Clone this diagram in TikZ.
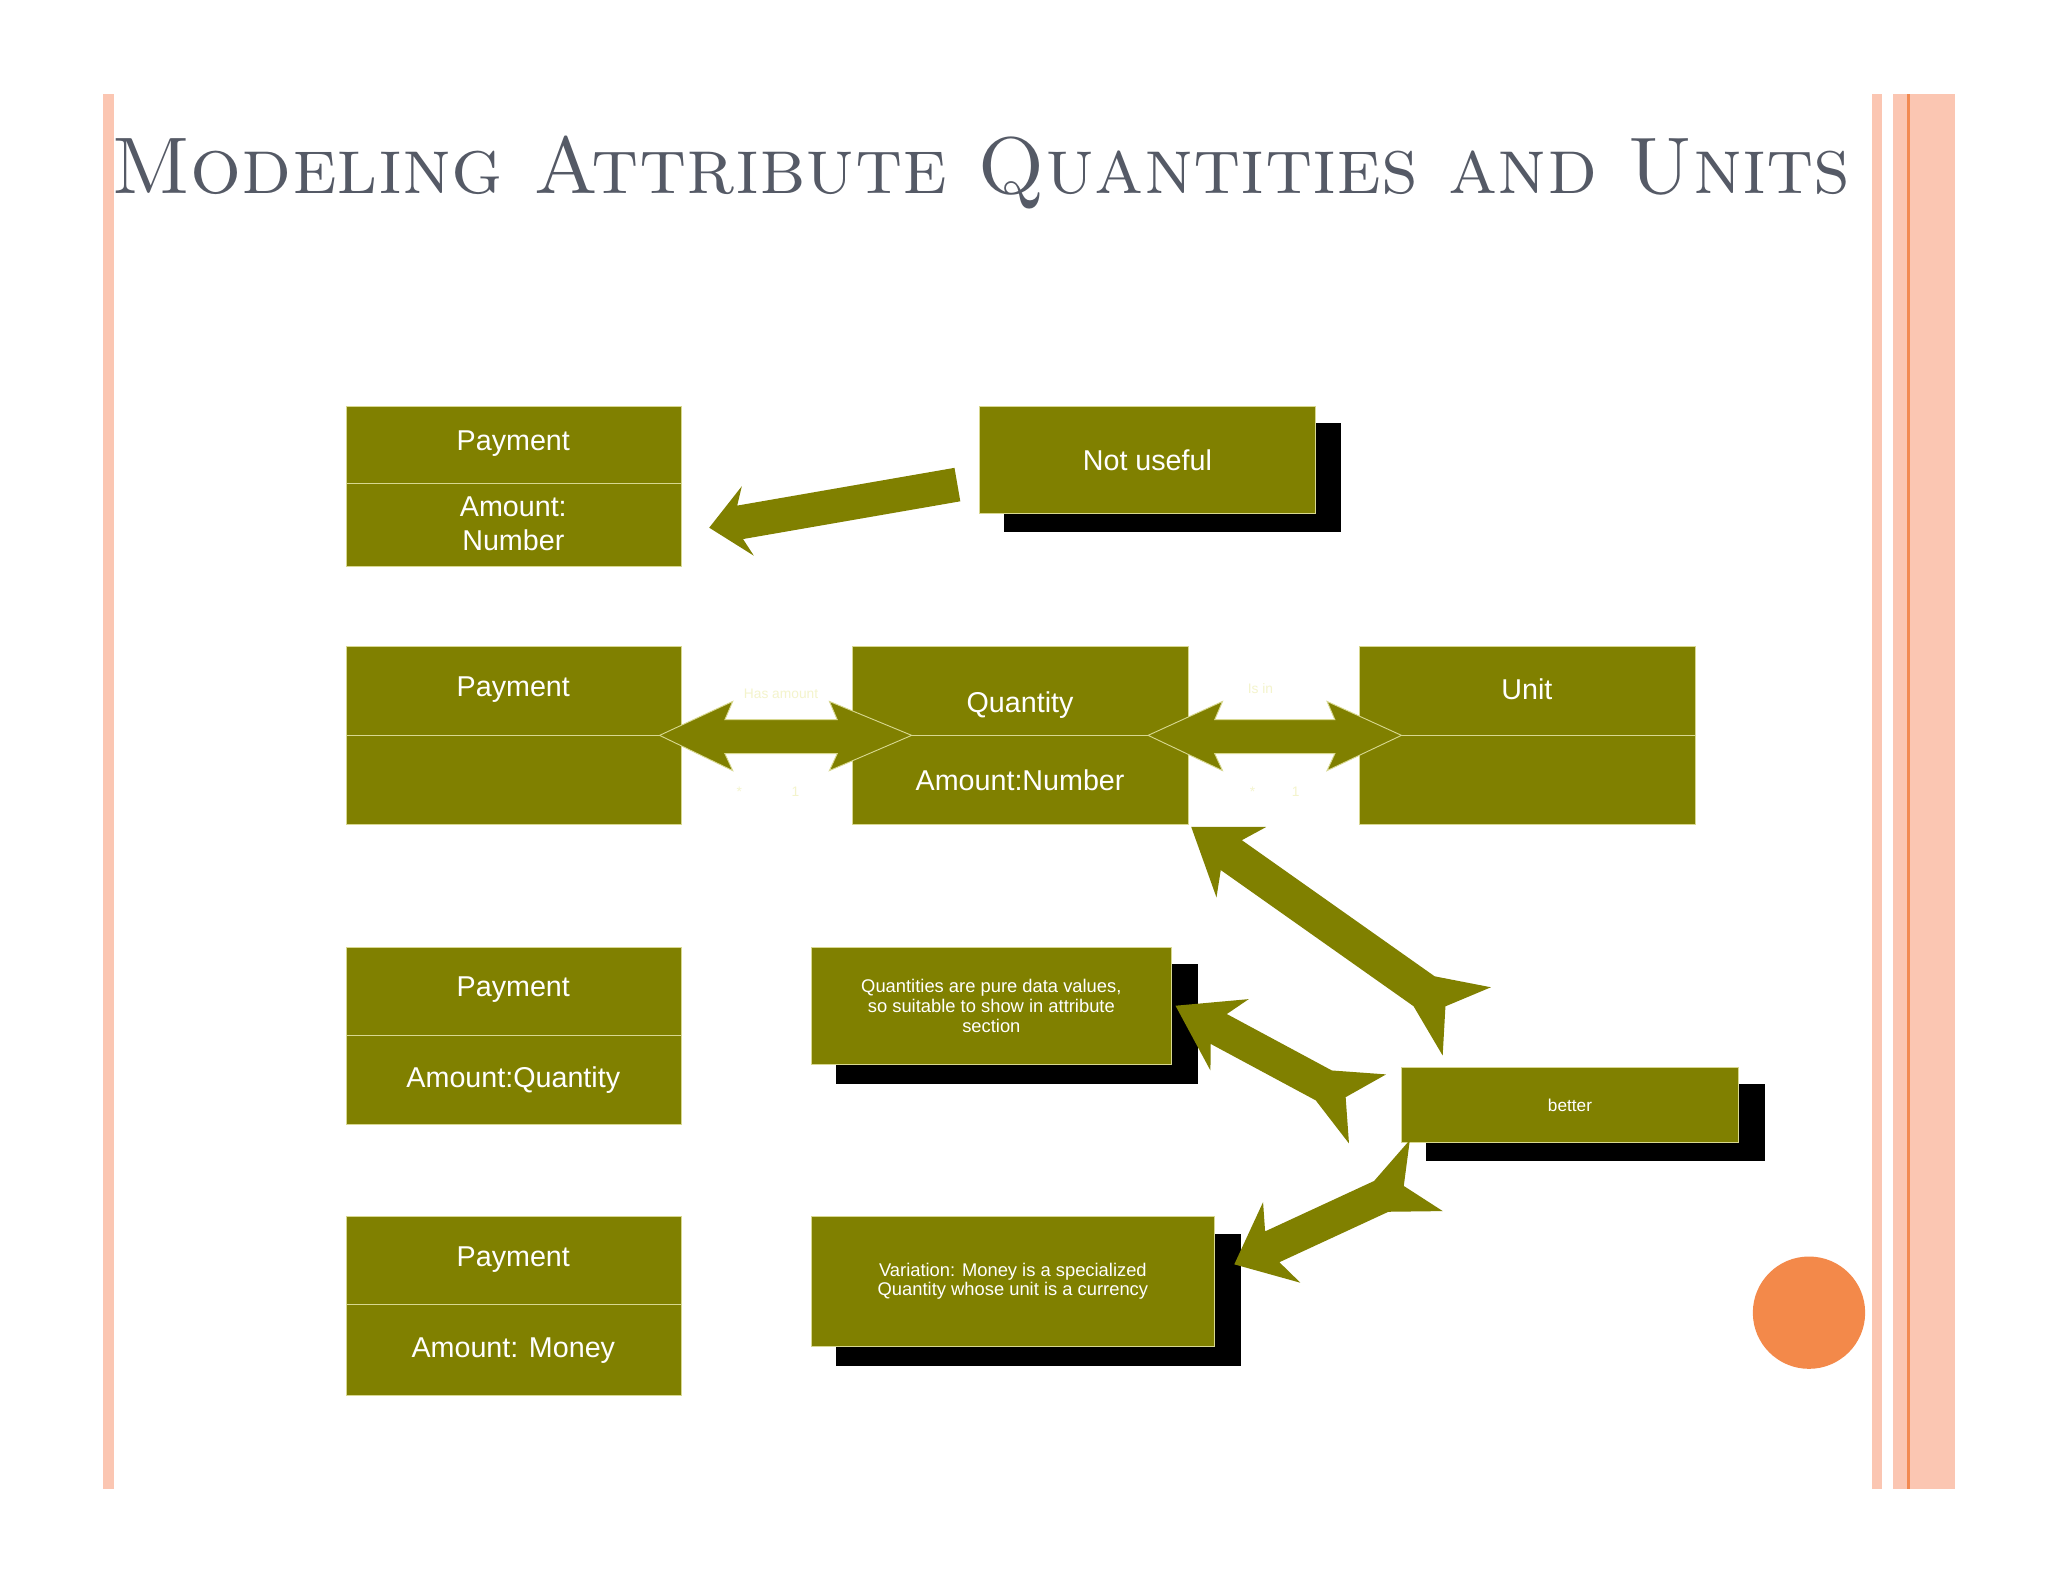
\documentclass[tikz,border=0pt]{standalone}
\usepackage{fontspec}
\setsansfont{Liberation Sans}
\definecolor{ol}{HTML}{808000}
\definecolor{edge}{HTML}{D8D890}
\definecolor{pale}{HTML}{F4F4CC}
\definecolor{sal}{HTML}{FBC6B2}
\definecolor{org}{HTML}{F28A52}
\definecolor{ttl}{HTML}{555A66}
\newcommand\dblarrow[9]{% tip x1 y1, tail end x2 y2, headlen, headhalf, shafthalf, finlen, finhalf
\pgfmathsetmacro\adx{#3-#1}\pgfmathsetmacro\ady{#4-#2}\pgfmathsetmacro\arL{veclen(\adx,\ady)}
\pgfmathsetmacro\aux{\adx/\arL}\pgfmathsetmacro\auy{\ady/\arL}
\pgfmathsetmacro\anx{-\auy}\pgfmathsetmacro\any{\aux}
\pgfmathsetmacro\arB{\arL-#8}
\fill[ol] (#1,#2)
 -- (#1+#5*\aux+#6*\anx, #2+#5*\auy+#6*\any)
 -- (#1+#5*0.8*\aux+#7*\anx, #2+#5*0.8*\auy+#7*\any)
 -- (#1+\arB*\aux+#7*\anx, #2+\arB*\auy+#7*\any)
 -- (#3+#9*\anx, #4+#9*\any)
 -- (#1+\arB*\aux+0.5*#8*\aux, #2+\arB*\auy+0.5*#8*\auy)
 -- (#3-#9*\anx, #4-#9*\any)
 -- (#1+\arB*\aux-#7*\anx, #2+\arB*\auy-#7*\any)
 -- (#1+#5*0.8*\aux-#7*\anx, #2+#5*0.8*\auy-#7*\any)
 -- (#1+#5*\aux-#6*\anx, #2+#5*\auy-#6*\any) -- cycle;}
\begin{document}
\begin{tikzpicture}[x=0.02cm,y=-0.02cm,
  box/.style={fill=ol,draw=edge,line width=0.4pt,text=white,font=\sffamily\fontsize{12.5}{15}\selectfont,align=center},
  shadow/.style={fill=black},
  lbl/.style={text=pale,font=\sffamily\fontsize{6}{7}\selectfont},
  divl/.style={draw=edge,line width=0.4pt}]
\useasboundingbox (0,0) rectangle (1568,1211);
\fill[white] (0,0) rectangle (1568,1211);
% side bars
\fill[sal] (79,72) rectangle (87,1140);
\fill[sal] (1433,72) rectangle (1441,1140);
\fill[sal] (1449,72) rectangle (1497,1140);
\draw[org,line width=1.2pt] (1461,72) -- (1461,1140);
\node[anchor=base west,text=ttl,inner sep=0,font=\fontsize{35}{40}\selectfont\scshape] (title) at (85,148) {Modeling Attribute Quantities and Units};
% row 1
\draw[box] (265,311) rectangle (522,434);
\draw[divl] (265,370) -- (522,370);
\node[box,draw=none,fill=none] (p1) at (393,340) {Payment};
\node[box,draw=none,fill=none] (a1) at (393,401) {Amount:\\Number};
\fill[shadow] (769,324) rectangle (1027,407);
\node[box,minimum width=257*0.02cm,minimum height=82*0.02cm] (nu) at (878.5,352) {Not useful};
\dblarrow{543}{404}{733}{371}{30}{27}{13}{0}{13}
% row 2
\draw[box] (265,495) rectangle (522,631);
\draw[box] (653,495) rectangle (910,631);
\draw[box] (1041,495) rectangle (1298,631);
\draw[divl] (265,563) -- (522,563) (653,563) -- (910,563) (1041,563) -- (1298,563);
\node[box,draw=none,fill=none] (p2) at (393,528) {Payment};
\node[box,draw=none,fill=none] (q) at (781,540) {Quantity};
\node[box,draw=none,fill=none] (an) at (781,597) {Amount:Number};
\node[box,draw=none,fill=none] (u) at (1169,528) {Unit};
\fill[ol,draw=edge,line width=0.4pt] (505,563) -- (561,537) -- (555,551) -- (641,551) -- (635,537) -- (698,563) -- (635,590) -- (641,577) -- (555,577) -- (561,590) -- cycle;
\fill[ol,draw=edge,line width=0.4pt] (879,563) -- (936,537) -- (930,551) -- (1022,551) -- (1016,537) -- (1073,563) -- (1016,590) -- (1022,577) -- (930,577) -- (936,590) -- cycle;
\node[lbl] (ha) at (598,531) {Has amount};
\node[lbl] (s1) at (566,606) {*};
\node[lbl] (o1) at (609,606) {1};
\node[lbl] (isin) at (965,527) {Is in};
\node[lbl] (s2) at (959,606) {*};
\node[lbl] (o2) at (992,606) {1};
% row 3
\draw[box] (265,725) rectangle (522,861);
\draw[divl] (265,793) -- (522,793);
\node[box,draw=none,fill=none] (p3) at (393,758) {Payment};
\node[box,draw=none,fill=none] (aq) at (393,827) {Amount:Quantity};
\fill[shadow] (640,738) rectangle (917,830);
\node[box,minimum width=276*0.02cm,minimum height=90*0.02cm,font=\sffamily\fontsize{8}{8.6}\selectfont] (note1) at (759,770) {Quantities are pure data values,\\so suitable to show in attribute\\section};
\fill[shadow] (1092,830) rectangle (1351,889);
\node[box,minimum width=258*0.02cm,minimum height=58*0.02cm,font=\sffamily\fontsize{7.5}{9}\selectfont] (better) at (1202,846) {better};
% row 4
\draw[box] (265,931) rectangle (522,1068);
\draw[divl] (265,999) -- (522,999);
\node[box,draw=none,fill=none] (p4) at (393,964) {Payment};
\node[box,draw=none,fill=none] (am) at (393,1034) {Amount: Money};
\fill[shadow] (640,945) rectangle (950,1046);
\node[box,minimum width=309*0.02cm,minimum height=100*0.02cm,font=\sffamily\fontsize{8}{8.6}\selectfont] (note2) at (775.5,981) {Variation: Money is a specialized\\Quantity whose unit is a currency};
% diagonal arrows
\dblarrow{912}{633}{1123}{782}{47}{33}{14}{40}{32}
\dblarrow{900}{770}{1047}{849}{47}{31}{13}{38}{30}
\dblarrow{945}{968}{1092}{900}{40}{34}{13}{38}{30}
% circle
\fill[org!90!orange] (1385,1005) circle (43);
\end{tikzpicture}
\end{document}
